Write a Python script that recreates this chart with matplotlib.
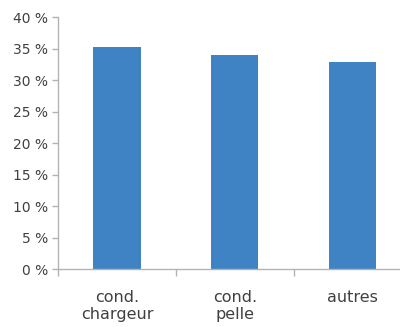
import numpy as np
import matplotlib.pyplot as plt
from matplotlib.ticker import FixedLocator

# share of each group (percent)
categories = ["cond.\nchargeur", "cond.\npelle", "autres"]
shares = [35.3, 34.0, 32.9]
y_ticks = [0, 5, 10, 15, 20, 25, 30, 35, 40]

text_col = "#404040"
axis_col = "#b3b3b3"

fig = plt.figure(figsize=(4.0, 3.27), dpi=100)
ax = fig.add_axes([0.145, 0.177, 0.855, 0.771])

x = np.arange(len(categories))
ax.bar(x, shares, width=0.4, color="#3f83c4", zorder=2)

ax.set_xlim(-0.5, 2.4)
ax.set_ylim(0, 40)
ax.set_yticks(y_ticks)
ax.set_yticklabels([str(v) + " %" for v in y_ticks], fontsize=10, color=text_col)

ax.set_xticks(x)
ax.set_xticklabels(categories, fontsize=11.5, color=text_col, linespacing=1.2)
ax.xaxis.set_minor_locator(FixedLocator([-0.5, 0.5, 1.5]))
ax.tick_params(axis="x", which="major", length=0, pad=15)
ax.tick_params(axis="x", which="minor", length=5, color=axis_col, width=1)
ax.tick_params(axis="y", length=4, color=axis_col, width=1, pad=3)

for side in ["top", "right"]:
    ax.spines[side].set_visible(False)
for side in ["left", "bottom"]:
    ax.spines[side].set_color(axis_col)
    ax.spines[side].set_linewidth(1)

fig.savefig("out.png", dpi=100)
